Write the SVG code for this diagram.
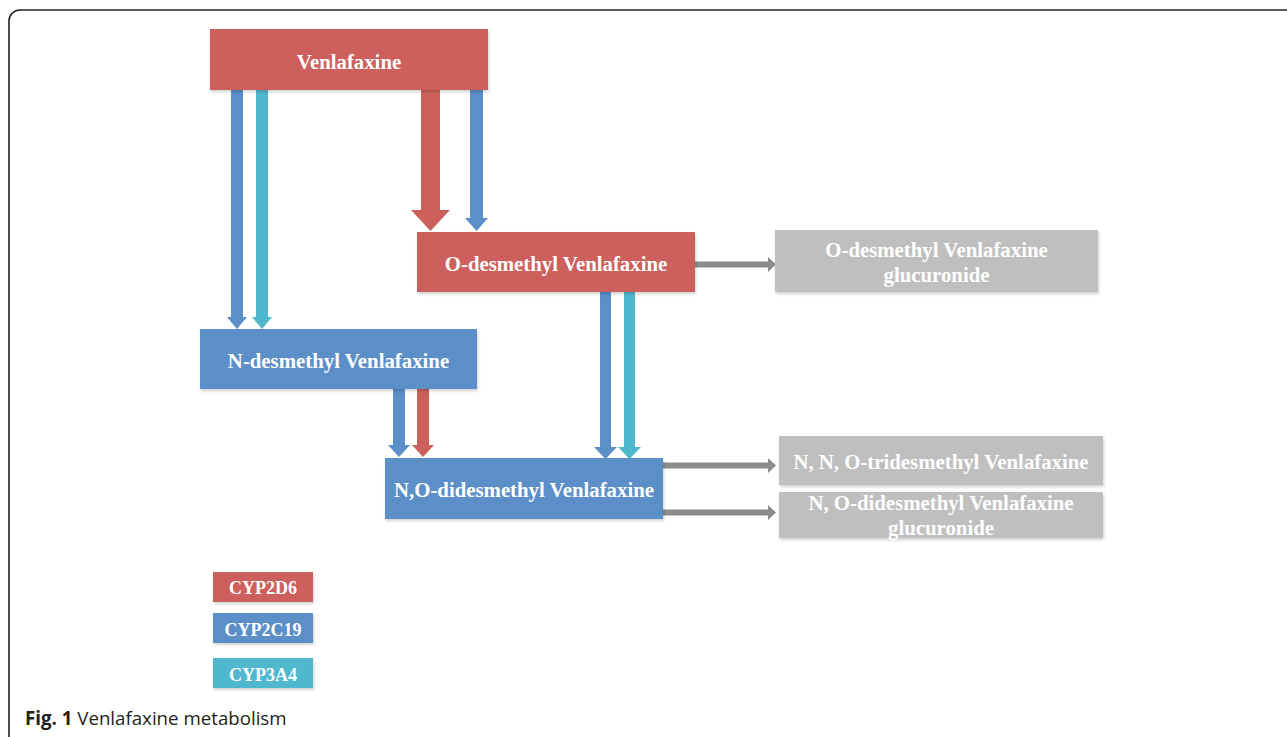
<svg xmlns="http://www.w3.org/2000/svg" width="1287" height="737" viewBox="0 0 1287 737">
<style>
.lbl{font-family:"Liberation Serif","Times New Roman",serif;font-weight:bold;font-size:20.8px;fill:#ffffff;text-anchor:middle}
.leg{font-family:"Liberation Serif","Times New Roman",serif;font-weight:bold;font-size:18px;fill:#ffffff;text-anchor:middle}
.red{fill:#CD605B}
.blue{fill:#5B8FC8}
.cyan{fill:#4FB8CF}
.gray{fill:#BFBFBF}
.garr{fill:#8C8C8C}
.cap{font-family:"Open Sans","Noto Sans",sans-serif;font-size:18.7px;fill:#231F20}
</style>
<defs>
<filter id="sh" x="-5%" y="-10%" width="110%" height="130%">
<feDropShadow dx="1" dy="2" stdDeviation="1.5" flood-color="#000" flood-opacity="0.18"/>
</filter>
</defs>
<rect x="0" y="0" width="1287" height="737" fill="#ffffff"/>
<rect x="9" y="10" width="1292" height="740" rx="11" ry="11" fill="none" stroke="#231F20" stroke-width="1.6"/>

<g id="connectors">
<polygon class="blue" points="231,90 243,90 243,317 247,317 237,329 227,317 231,317"/>
<polygon class="cyan" points="256,90 268,90 268,317 272,317 262,329 252,317 256,317"/>
<polygon class="red" points="421,90 440,90 440,210 450,210 430.5,231 411,210 421,210"/>
<polygon class="blue" points="470,90 483,90 483,218 488,218 476.5,231 465,218 470,218"/>
<polygon class="blue" points="393,389 405,389 405,445 410,445 399,457 388,445 393,445"/>
<polygon class="red" points="417,389 429,389 429,445 434,445 423,457 412,445 417,445"/>
<polygon class="blue" points="600,292 611,292 611,447 617,447 605.5,459 594,447 600,447"/>
<polygon class="cyan" points="624,292 635,292 635,447 641,447 629.5,459 618,447 624,447"/>
<polygon class="garr" points="695,261.5 768,261.5 768,257 776,264.5 768,272 768,267.5 695,267.5"/>
<polygon class="garr" points="663,462.5 768,462.5 768,458 776,465.5 768,473 768,468.5 663,468.5"/>
<polygon class="garr" points="663,509.5 768,509.5 768,505 776,512.5 768,520 768,515.5 663,515.5"/>
</g>

<g id="venlafaxine">
<rect class="red" x="210" y="29" width="278" height="61" filter="url(#sh)"/>
<text class="lbl" x="349" y="69">Venlafaxine</text>
</g>
<g id="o-desmethyl">
<rect class="red" x="417" y="232" width="278" height="60" filter="url(#sh)"/>
<text class="lbl" x="556" y="271">O-desmethyl Venlafaxine</text>
</g>
<g id="n-desmethyl">
<rect class="blue" x="200" y="329" width="277" height="60" filter="url(#sh)"/>
<text class="lbl" x="338.5" y="368">N-desmethyl Venlafaxine</text>
</g>
<g id="no-didesmethyl">
<rect class="blue" x="385" y="458" width="278" height="61" filter="url(#sh)"/>
<text class="lbl" x="524" y="497">N,O-didesmethyl Venlafaxine</text>
</g>
<g id="o-desmethyl-glucuronide">
<rect class="gray" x="775" y="230" width="323" height="62" filter="url(#sh)"/>
<text class="lbl" x="936.5" y="257">O-desmethyl Venlafaxine</text>
<text class="lbl" x="936.5" y="282">glucuronide</text>
</g>
<g id="nno-tridesmethyl">
<rect class="gray" x="779" y="436" width="324" height="49" filter="url(#sh)"/>
<text class="lbl" x="941" y="469">N, N, O-tridesmethyl Venlafaxine</text>
</g>
<g id="no-didesmethyl-glucuronide">
<rect class="gray" x="779" y="492" width="324" height="46" filter="url(#sh)"/>
<text class="lbl" x="941" y="510">N, O-didesmethyl Venlafaxine</text>
<text class="lbl" x="941" y="535">glucuronide</text>
</g>

<g id="legend-cyp2d6">
<rect class="red" x="213" y="572" width="100" height="30" filter="url(#sh)"/>
<text class="leg" x="263" y="594">CYP2D6</text>
</g>
<g id="legend-cyp2c19">
<rect class="blue" x="213" y="613" width="100" height="30" filter="url(#sh)"/>
<text class="leg" x="263" y="636">CYP2C19</text>
</g>
<g id="legend-cyp3a4">
<rect class="cyan" x="213" y="658" width="100" height="30" filter="url(#sh)"/>
<text class="leg" x="263" y="681">CYP3A4</text>
</g>

<text class="cap" x="25" y="725"><tspan font-weight="bold">Fig. 1</tspan> Venlafaxine metabolism</text>
</svg>
